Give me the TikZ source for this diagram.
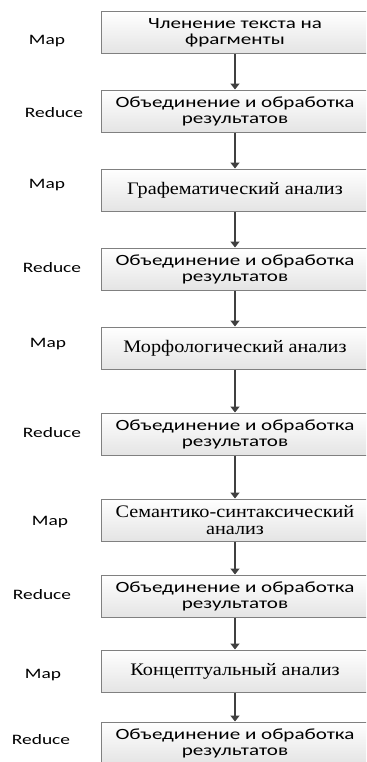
\documentclass[tikz,border=0pt]{standalone}
\usepackage{fontspec}
\newfontfamily\boxsans[FakeStretch=1.35]{Carlito}
\newfontfamily\boxserif[FakeStretch=1.15]{Liberation Serif}
\definecolor{mrline}{HTML}{808080}
\definecolor{mrarrow}{HTML}{404040}
\definecolor{mrshade}{HTML}{E4E4E4}
\usetikzlibrary{arrows.meta}

\begin{document}
\begin{tikzpicture}[x=0.5pt,y=-0.5pt,
  stage/.style={draw=mrline,line width=0.5pt,top color=white,bottom color=mrshade,
    align=center,minimum width=134pt,minimum height=21pt,inner sep=2pt},
  sanstxt/.style={font=\boxsans\fontsize{7.8}{8}\selectfont},
  seriftxt/.style={font=\boxserif\fontsize{8.8}{8.6}\selectfont},
  phase/.style={anchor=base,font=\boxsans\fontsize{7.2}{8}\selectfont},
  flow/.style={-{Triangle[width=4.5pt,length=3pt]},line width=0.9pt,mrarrow}]
  \useasboundingbox (0,0) rectangle (366,762);
  \clip (0,0) rectangle (366,762);
  \node[stage,sanstxt]  (a) at (235,32.5) {Членение текста на\\фрагменты};
  \node[stage,sanstxt]  (b) at (235,111)  {Объединение и обработка\\результатов};
  \node[stage,seriftxt] (c) at (235,190)  {Графематический анализ};
  \node[stage,sanstxt]  (d) at (235,269)  {Объединение и обработка\\результатов};
  \node[stage,seriftxt] (e) at (235,348)  {Морфологический анализ};
  \node[stage,sanstxt]  (f) at (235,434)  {Объединение и обработка\\результатов};
  \node[stage,seriftxt] (g) at (235,520)  {Семантико-синтаксический\\анализ};
  \node[stage,sanstxt]  (h) at (235,596)  {Объединение и обработка\\результатов};
  \node[stage,seriftxt] (i) at (235,671)  {Концептуальный анализ};
  \node[stage,sanstxt]  (j) at (235,743)  {Объединение и обработка\\результатов};
  % Map / Reduce labels
  \node[phase] (la) at (47,44)  {Map};
  \node[phase] (lb) at (54,117) {Reduce};
  \node[phase] (lc) at (47,188) {Map};
  \node[phase] (ld) at (52,272) {Reduce};
  \node[phase] (le) at (48,347) {Map};
  \node[phase] (lf) at (52,437) {Reduce};
  \node[phase] (lg) at (50,525) {Map};
  \node[phase] (lh) at (42,599) {Reduce};
  \node[phase] (li) at (43,678) {Map};
  \node[phase] (lj) at (41,744) {Reduce};
  \draw[flow] (a) -- (b);
  \draw[flow] (b) -- (c);
  \draw[flow] (c) -- (d);
  \draw[flow] (d) -- (e);
  \draw[flow] (e) -- (f);
  \draw[flow] (f) -- (g);
  \draw[flow] (g) -- (h);
  \draw[flow] (h) -- (i);
  \draw[flow] (i) -- (j);
\end{tikzpicture}
\end{document}
